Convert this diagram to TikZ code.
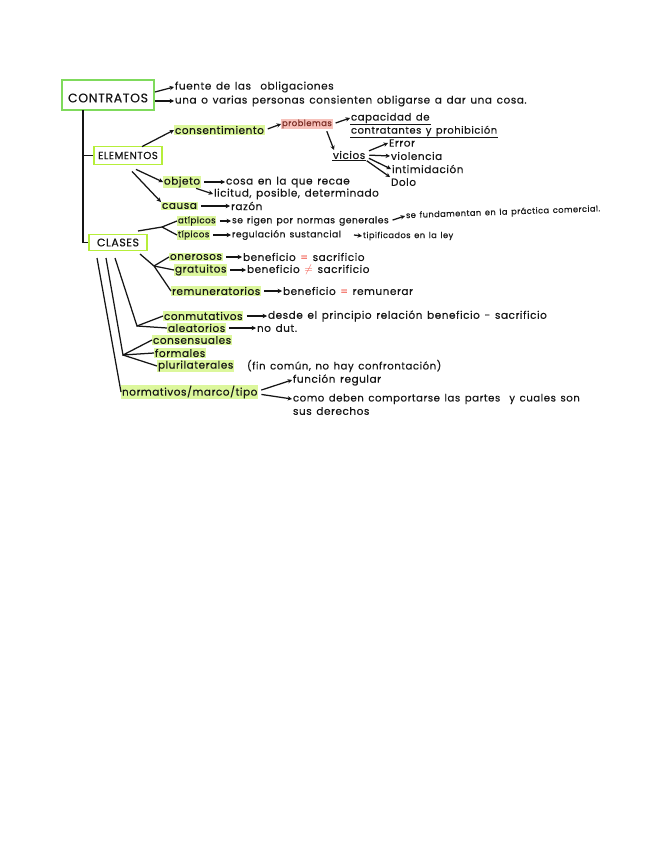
\documentclass[tikz,border=0pt]{standalone}
\usepackage{fontspec}
\setmainfont{Poppins}[LetterSpace=5.0, WordSpace=1.4, FakeBold=0.35]
\usetikzlibrary{arrows.meta}
\definecolor{ink}{HTML}{151515}
\definecolor{boxgreen}{HTML}{7FDA5C}
\definecolor{boxlime}{HTML}{B6EE3A}
\definecolor{hlgreen}{HTML}{DCF79C}
\definecolor{hlpink}{HTML}{F7C2BB}
\definecolor{eqred}{HTML}{F0483A}
\definecolor{probred}{HTML}{7A2A22}
\tikzset{
  txt/.style={anchor=west, inner sep=0.8pt, text=ink, font=\fontsize{10.5}{12}\selectfont},
  small/.style={txt, font=\fontsize{8.3}{9}\selectfont},
  mid/.style={txt, font=\fontsize{9.2}{10}\selectfont},
  hl/.style={txt, fill=hlgreen},
  bigbox/.style={draw=#1, line width=1.8pt, inner sep=0pt, text=ink},
  arr/.style={draw=ink, line width=1.25pt, -{Stealth[length=4.4pt,width=4.4pt]}},
  arrt/.style={arr, shorten <=3pt},
  ln/.style={draw=ink, line width=1.25pt},
  ul/.style={draw=ink, line width=1pt}
}
\begin{document}
\begin{tikzpicture}[x=1pt,y=-1pt]
\useasboundingbox (0,0) rectangle (648,848);
% boxes
\node[bigbox=boxgreen, minimum width=92pt, minimum height=30pt, font=\fontsize{12.5}{14}\selectfont] (contratos) at (108,95) {\raisebox{-3pt}[\height][\depth]{CONTRATOS}};
\node[bigbox=boxlime, minimum width=68pt, minimum height=18pt, font=\fontsize{10.2}{11}\selectfont] (elementos) at (128,155.5) {ELEMENTOS};
\node[bigbox=boxlime, minimum width=58pt, minimum height=16pt, font=\fontsize{11}{12}\selectfont] (clases) at (118,242.5) {CLASES};
% top texts
\node[txt] (fuente) at (174,87) {fuente de las\ \ obligaciones};
\node[txt] (una) at (174,101) {una o varias personas consienten obligarse a dar una cosa.};
\draw[arr] ([yshift=3pt]contratos.east) -- (fuente.west);
\draw[arr] ([yshift=-6pt]contratos.east) -- (una.west);
% trunk
\coordinate (t1) at (83,110);
\draw[ln] (t1) |- (clases.west);
\draw[ln] (elementos.west -| t1) -- (elementos.west);
% consentimiento
\node[hl] (consent) at (174,130) {consentimiento};
\draw[arr] ([xshift=14pt,yshift=-1pt]elementos.north) -- (consent.west);
\node[txt, fill=hlpink, text=probred, font=\fontsize{8.5}{10}\selectfont] (problemas) at (281,124) {problemas};
\draw[arrt] (consent.east) -- (problemas.west);
\node[txt, font=\fontsize{10.2}{11}\selectfont] (capacidad) at (350,118) {capacidad de};
\node[txt, font=\fontsize{10}{11}\selectfont] (contrat) at (350,131) {contratantes y prohibición};
\draw[ul] (capacidad.south west) -- (capacidad.south east);
\draw[ul] (contrat.south west) -- (contrat.south east);
\draw[arrt] (problemas.east) -- (capacidad.west);
\node[txt] (vicios) at (332,155) {vicios};
\draw[ul] (vicios.south west) -- (vicios.south east);
\draw[arr] ([xshift=-6pt,yshift=-2pt]problemas.south east) -- ([xshift=2pt]vicios.north west);
\node[txt] (error) at (388,143) {Error};
\node[txt] (violencia) at (390,156) {violencia};
\node[txt] (intim) at (391,169) {intimidación};
\node[txt] (dolo) at (390,182) {Dolo};
\draw[arrt] ([yshift=3pt]vicios.east) -- (error.west);
\draw[arrt] (vicios.east) -- (violencia.west);
\draw[arrt] ([yshift=-2pt]vicios.east) -- (intim.west);
\draw[arrt] ([xshift=-2pt,yshift=-4pt]vicios.east) -- (dolo.north west);
% objeto / causa
\node[hl] (objeto) at (163,182) {objeto};
\node[txt] (cosa) at (225,182) {cosa en la que recae};
\draw[arrt] (objeto.east) -- (cosa.west);
\node[txt] (licitud) at (213,194) {licitud, posible, determinado};
\draw[arr] ([xshift=-5pt]objeto.south east) -- (licitud.west);
\node[hl] (causa) at (161,206) {causa};
\node[txt] (razon) at (230,206) {razón};
\draw[arrt] (causa.east) -- (razon.west);
\draw[arr] ([xshift=8pt,yshift=-4pt]elementos.south) -- (objeto.west);
\draw[arr] ([xshift=4pt,yshift=-6pt]elementos.south) -- (causa.north west);
% atipicos / tipicos
\node[hl, font=\fontsize{8.7}{10}\selectfont] (atipicos) at (177,221) {atípicos};
\node[mid] (rigen) at (231,221) {se rigen por normas generales};
\node[small, rotate=2] (fundam) at (405,216) {se fundamentan en la práctica comercial.};
\draw[arrt] (atipicos.east) -- (rigen.west);
\draw[arrt] (rigen.east) -- (fundam.west);
\node[hl, font=\fontsize{8.7}{10}\selectfont] (tipicos) at (177,235) {típicos};
\node[mid] (regul) at (231,235) {regulación sustancial};
\node[small] (tipif) at (362,236) {tipificados en la ley};
\draw[arrt] (tipicos.east) -- (regul.west);
\draw[arr] ([xshift=12pt]regul.east) -- (tipif.west);
\coordinate (fa0) at (138,231);
\coordinate (fa1) at (162,227);
\draw[ln] (fa0) -- (fa1) -- (atipicos.west);
\draw[ln] (fa1) -- (tipicos.west);
% onerosos etc
\node[hl] (onerosos) at (169,257) {onerosos};
\node[txt] (ben1) at (242,257) {beneficio {\color{eqred}=} sacrificio};
\draw[arrt] (onerosos.east) -- (ben1.west);
\node[hl] (gratuitos) at (174,270) {gratuitos};
\node[txt] (ben2) at (246,270) {beneficio {\color{eqred}$\neq$} sacrificio};
\draw[arrt] (gratuitos.east) -- (ben2.west);
\node[hl] (remun) at (171,291) {remuneratorios};
\node[txt] (ben3) at (282,291) {beneficio {\color{eqred}=} remunerar};
\draw[arrt] (remun.east) -- (ben3.west);
\coordinate (ca0) at (140,254);
\coordinate (ca1) at (154,266);
\draw[ln] (ca0) -- (ca1) -- (remun.west);
\draw[ln] (ca1) -- (onerosos.west);
\draw[ln] (ca1) -- (gratuitos.west);
% conmutativos
\node[hl] (conmut) at (163,316) {conmutativos};
\node[txt] (desde) at (267,316) {desde el principio relación beneficio - sacrificio};
\draw[arrt] (conmut.east) -- (desde.west);
\node[hl] (aleat) at (167,328) {aleatorios};
\node[txt] (nodut) at (256,328) {no dut.};
\draw[arrt] (aleat.east) -- (nodut.west);
\coordinate (cb0) at (115,258);
\coordinate (cb1) at (137,326);
\draw[ln] (cb0) -- (cb1) -- (conmut.west);
\draw[ln] (cb1) -- (aleat.west);
% consensuales
\node[hl] (consens) at (152,340) {consensuales};
\node[hl] (formales) at (154,353) {formales};
\node[hl] (pluri) at (157,366) {plurilaterales};
\node[txt, font=\fontsize{10.2}{11}\selectfont] (fin) at (246,366) {(fin común, no hay confrontación)};
\coordinate (cc0) at (106,258);
\coordinate (cc1) at (123,355);
\draw[ln] (cc0) -- (cc1) -- (consens.west);
\draw[ln] (cc1) -- (formales.west);
\draw[ln] (cc1) -- (pluri.west);
% normativos
\node[hl] (norm) at (121,392) {normativos/marco/tipo};
\coordinate (cd0) at (97,258);
\draw[ln] (cd0) -- (norm.west);
\node[txt] (funcion) at (292,380) {función regular};
\node[txt, font=\fontsize{10.2}{11}\selectfont] (como) at (292,399) {como deben comportarse las partes\ \ y cuales son};
\node[txt] (sus) at (292,411) {sus derechos};
\draw[arrt] ([yshift=1pt]norm.east) -- (funcion.west);
\draw[arrt] ([yshift=-2pt]norm.east) -- (como.west);
\end{tikzpicture}
\end{document}
